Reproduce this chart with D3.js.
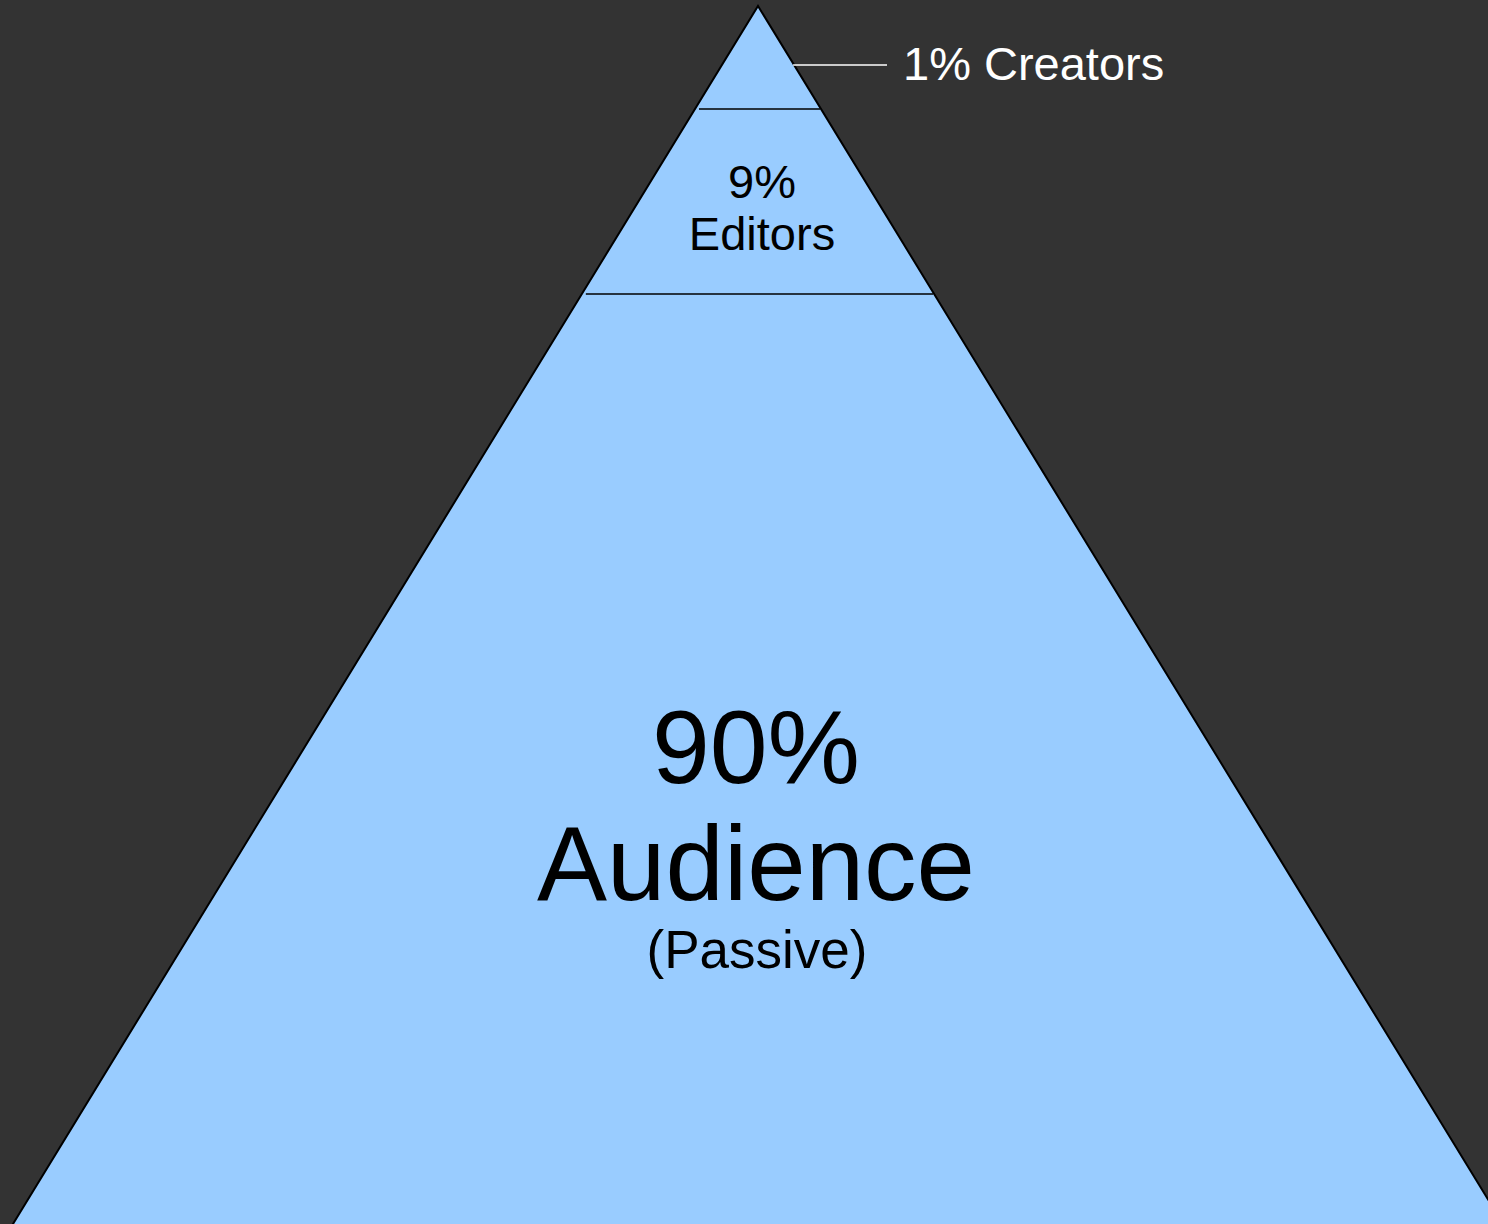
<!DOCTYPE html>
<html>
<head>
<meta charset="utf-8">
<script src="https://cdn.jsdelivr.net/npm/d3@7/dist/d3.min.js"></script>
<style>
  html, body { margin: 0; padding: 0; background: #333333; }
  svg { display: block; }
  text { font-family: "Liberation Sans", Arial, sans-serif; }
</style>
</head>
<body>
<svg id="chart" width="1488" height="1224"></svg>
<script>
// layers of the participation pyramid, top to bottom
var layerNames = ["Creators", "Editors", "Audience"];
var layerShares = [1, 9, 90];
var layerNotes = ["", "", "(Passive)"];

var W = 1488, H = 1224;
var apexX = 758, apexY = 6;
var slope = 0.6117; // half-width per pixel of depth

var svg = d3.select("#chart");
svg.append("rect").attr("width", W).attr("height", H).attr("fill", "#333333");

// cumulative share -> depth in the pyramid (piecewise)
var cum = [0];
layerShares.forEach(function(s, i){ cum.push(cum[i] + s); });
var y = d3.scaleLinear()
  .domain(cum)
  .range([apexY, 109, 294, 1240]);

function halfW(yy){ return (yy - apexY) * slope; }

var layers = layerNames.map(function(n, i){
  return {name: n, share: layerShares[i], note: layerNotes[i], y0: y(cum[i]), y1: y(cum[i+1])};
});

var g = svg.append("g");

// filled layers
g.selectAll("path.layer").data(layers).enter().append("path").classed("layer", true)
  .attr("d", function(d){
    var a = halfW(d.y0), b = halfW(d.y1);
    return "M" + (apexX - a) + "," + d.y0 + "L" + (apexX + a) + "," + d.y0 +
           "L" + (apexX + b) + "," + d.y1 + "L" + (apexX - b) + "," + d.y1 + "Z";
  })
  .attr("fill", "#99ccff");

// outline
var bottom = y(cum[cum.length - 1]);
g.append("path")
  .attr("d", "M" + (apexX - halfW(bottom)) + "," + bottom + "L" + apexX + "," + apexY +
             "L" + (apexX + halfW(bottom)) + "," + bottom)
  .attr("fill", "none").attr("stroke", "black").attr("stroke-width", 2)
  .attr("stroke-linejoin", "miter");

// dividers between layers
g.selectAll("line.divider").data(layers.slice(0, -1)).enter().append("line").classed("divider", true)
  .attr("x1", function(d){ return apexX - halfW(d.y1) + 4; })
  .attr("x2", function(d){ return apexX + halfW(d.y1) - 1; })
  .attr("y1", function(d){ return d.y1; })
  .attr("y2", function(d){ return d.y1; })
  .attr("stroke", "black").attr("stroke-width", 1.5);

// top label sits outside with a leader line
var topLayer = layers[0];
var leadY = 65;
svg.append("line")
  .attr("x1", apexX + halfW(leadY) - 1).attr("x2", 887)
  .attr("y1", leadY).attr("y2", leadY)
  .attr("stroke", "white").attr("stroke-width", 1.5);
svg.append("text")
  .attr("x", 903).attr("y", 80)
  .attr("fill", "white").style("font-size", "47px")
  .text(topLayer.share + "% " + topLayer.name);

// middle layer
var midLayer = layers[1];
var midText = svg.append("text").attr("text-anchor", "middle").attr("fill", "black").style("font-size", "47px");
midText.append("tspan").attr("x", 762).attr("y", 198).text(midLayer.share + "%");
midText.append("tspan").attr("x", 762).attr("y", 250).text(midLayer.name);

// bottom layer
var baseLayer = layers[2];
var baseText = svg.append("text").attr("text-anchor", "middle").attr("fill", "black");
baseText.append("tspan").attr("x", 756).attr("y", 783).style("font-size", "104px").text(baseLayer.share + "%");
baseText.append("tspan").attr("x", 756).attr("y", 900).style("font-size", "105px").text(baseLayer.name);
baseText.append("tspan").attr("x", 757).attr("y", 968).style("font-size", "53px").text(baseLayer.note);
</script>
</body>
</html>
